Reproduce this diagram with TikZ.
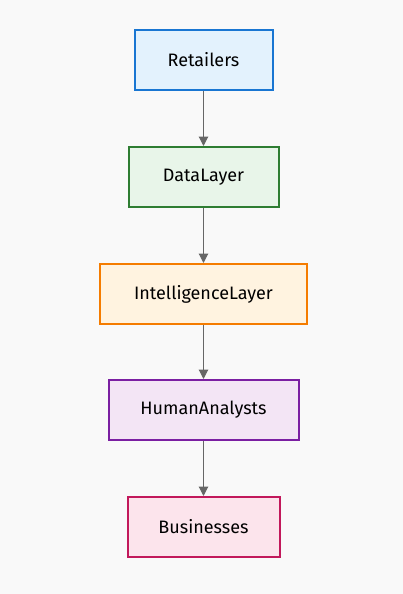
\documentclass[tikz,border=0pt]{standalone}
\usepackage{fontspec}
\setmainfont{Fira Sans}
\usetikzlibrary{arrows.meta}
\definecolor{bg}{HTML}{F9F9F9}
\definecolor{bS}{HTML}{1976D2}\definecolor{bF}{HTML}{E3F2FD}
\definecolor{gS}{HTML}{2E7D32}\definecolor{gF}{HTML}{E8F5E9}
\definecolor{oS}{HTML}{F57C00}\definecolor{oF}{HTML}{FFF3E0}
\definecolor{pS}{HTML}{7B1FA2}\definecolor{pF}{HTML}{F3E5F5}
\definecolor{rS}{HTML}{C2185B}\definecolor{rF}{HTML}{FCE4EC}
\definecolor{arr}{HTML}{666666}
\begin{document}
\begin{tikzpicture}[x=0.75pt,y=-0.75pt,
  box/.style={draw, line width=1.5pt, minimum height=45pt, inner sep=0pt, font=\fontsize{13.5pt}{15pt}\selectfont},
  conn/.style={draw=arr, line width=0.8pt, -{Triangle[length=7pt,width=7pt]}}]
\fill[bg] (0,0) rectangle (403,594);
\useasboundingbox (0,0) rectangle (403,594);
\node[box, draw=bS, fill=bF, minimum width=103.5pt] (r) at (203.5,60) {Retailers};
\node[box, draw=gS, fill=gF, minimum width=112.5pt] (d) at (203.5,177) {DataLayer};
\node[box, draw=oS, fill=oF, minimum width=155pt] (i) at (203.5,294) {IntelligenceLayer};
\node[box, draw=pS, fill=pF, minimum width=142.5pt] (h) at (203.5,410) {HumanAnalysts};
\node[box, draw=rS, fill=rF, minimum width=114pt] (b) at (203.5,527) {Businesses};
\draw[conn] (r) -- (d);
\draw[conn] (d) -- (i);
\draw[conn] (i) -- (h);
\draw[conn] (h) -- (b);
\end{tikzpicture}
\end{document}
